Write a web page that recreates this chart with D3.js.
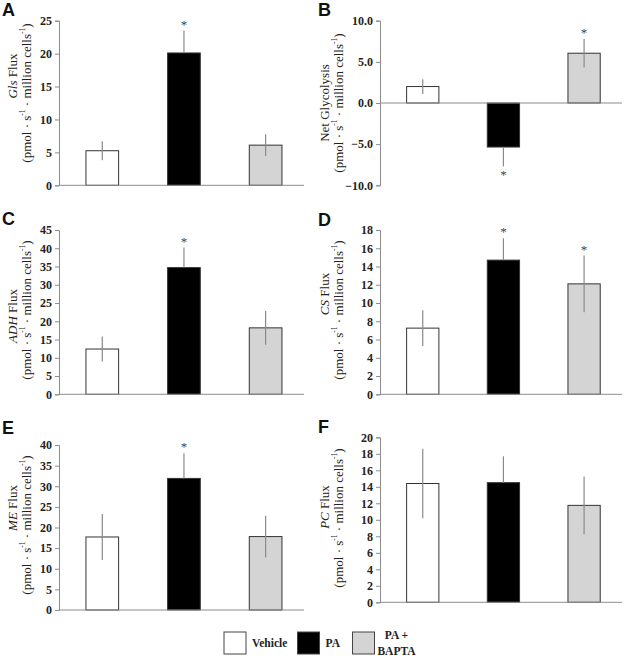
<!DOCTYPE html>
<html><head><meta charset="utf-8">
<script src="https://cdn.jsdelivr.net/npm/d3@7"></script>
<style>body{margin:0;background:#fff}svg{display:block}</style>
</head><body><svg id="c" width="624" height="656"></svg>
<script>
// ---- data ----
const groups = ["Vehicle", "PA", "PA + BAPTA"];
const glsFlux = [5.25, 20.1, 6.1];
const glsErr = [1.45, 3.4, 1.65];
const glsSig = [false, true, false];
const netGly = [2.0, -5.35, 6.05];
const netGlyErr = [0.9, 2.35, 1.75];
const netGlySig = [false, true, true];
const adhFlux = [12.4, 34.7, 18.2];
const adhErr = [3.4, 5.5, 4.6];
const adhSig = [false, true, false];
const csFlux = [7.25, 14.7, 12.1];
const csErr = [1.95, 2.4, 3.1];
const csSig = [false, true, true];
const meFlux = [17.7, 31.9, 17.8];
const meErr = [5.6, 6.1, 5.05];
const meSig = [false, true, false];
const pcFlux = [14.4, 14.5, 11.75];
const pcErr = [4.2, 3.2, 3.5];
const pcSig = [false, false, false];
const ticksA = [0, 5, 10, 15, 20, 25];
const ticksB = [-10, -5, 0, 5, 10];
const ticksC = [0, 5, 10, 15, 20, 25, 30, 35, 40, 45];
const ticksD = [0, 2, 4, 6, 8, 10, 12, 14, 16, 18];
const ticksE = [0, 5, 10, 15, 20, 25, 30, 35, 40];
const ticksF = [0, 2, 4, 6, 8, 10, 12, 14, 16, 18, 20];
const legendLabels = [["Vehicle"], ["PA"], ["PA +", "BAPTA"]];

// ---- layout / style ----
const fills = ["#ffffff", "#000000", "#d4d4d4"];
const axisColor = "#8c8c8c";
const errColor = "#8a8a8a";
const serif = "'Liberation Serif','Times New Roman',serif";
const sans = "'Liberation Sans',Arial,sans-serif";

const panels = [
  {letter:"A", lx:2, ly:16, left:59, right:304, top:20.7, bottom:185.3, dom:[0,25], ticks:ticksA, fmt:d3.format("d"), vals:glsFlux, errs:glsErr, sig:glsSig, ital:"Gls", rest:" Flux", px:0, c1:76, c2:93},
  {letter:"B", lx:318, ly:16, left:380, right:622, top:20.7, bottom:185.3, dom:[-10,10], ticks:ticksB, fmt:d3.format(".1f"), vals:netGly, errs:netGlyErr, sig:netGlySig, ital:"", rest:"Net Glycolysis", px:312, c1:103, c2:103},
  {letter:"C", lx:2, ly:225, left:59, right:304, top:230, bottom:394.3, dom:[0,45], ticks:ticksC, fmt:d3.format("d"), vals:adhFlux, errs:adhErr, sig:adhSig, ital:"ADH", rest:" Flux", px:0, c1:316, c2:310},
  {letter:"D", lx:318, ly:226, left:380, right:622, top:230, bottom:394.3, dom:[0,18], ticks:ticksD, fmt:d3.format("d"), vals:csFlux, errs:csErr, sig:csSig, ital:"CS", rest:" Flux", px:312, c1:294, c2:310},
  {letter:"E", lx:2, ly:434, left:59, right:304, top:445, bottom:610, dom:[0,40], ticks:ticksE, fmt:d3.format("d"), vals:meFlux, errs:meErr, sig:meSig, ital:"ME", rest:" Flux", px:0, c1:508, c2:525},
  {letter:"F", lx:318, ly:433, left:380, right:622, top:437.3, bottom:602.3, dom:[0,20], ticks:ticksF, fmt:d3.format("d"), vals:pcFlux, errs:pcErr, sig:pcSig, ital:"PC", rest:" Flux", px:312, c1:507, c2:518}
];

const svg = d3.select("#c");

panels.forEach(p => {
  const g = svg.append("g");
  const x = d3.scaleBand().domain(groups).range([p.left, p.right]).paddingInner(0.6).paddingOuter(0.3).align(0.55);
  const y = d3.scaleLinear().domain(p.dom).range([p.bottom, p.top]);

  g.append("text").attr("x", p.lx).attr("y", p.ly).attr("font-family", sans).attr("font-weight", "bold")
    .attr("font-size", 18).attr("fill", "#111").text(p.letter);

  const ya = g.append("g").attr("transform", `translate(${p.left},0)`)
    .call(d3.axisLeft(y).tickValues(p.ticks).tickFormat(p.fmt).tickSize(4).tickPadding(3));
  ya.select(".domain").attr("stroke", axisColor);
  ya.selectAll(".tick line").attr("stroke", axisColor);
  ya.selectAll(".tick text").attr("font-family", serif).attr("font-weight", "bold").attr("font-size", 12).attr("fill", "#222");

  g.selectAll("rect.bar").data(groups).join("rect")
    .attr("x", d => x(d)).attr("width", x.bandwidth())
    .attr("y", (d, i) => y(Math.max(0, p.vals[i])))
    .attr("height", (d, i) => Math.abs(y(p.vals[i]) - y(0)))
    .attr("fill", (d, i) => fills[i]).attr("stroke", "#333").attr("stroke-width", 1);

  g.append("line").attr("x1", p.left).attr("x2", p.right).attr("y1", y(0)).attr("y2", y(0))
    .attr("stroke", axisColor).attr("stroke-width", 1);

  groups.forEach((gname, i) => {
    const v = p.vals[i], e = p.errs[i];
    const cx = x(gname) + x.bandwidth() / 2;
    const dark = fills[i] === "#000000";
    const out = v >= 0 ? v + e : v - e;
    const inn = dark ? v : (v >= 0 ? v - e : v + e);
    g.append("line").attr("x1", cx).attr("x2", cx).attr("y1", y(inn)).attr("y2", y(out))
      .attr("stroke", errColor).attr("stroke-width", 1.2);
    if (p.sig[i]) {
      const ty = v >= 0 ? y(out) - 2 : y(out) + 13;
      g.append("text").attr("x", cx).attr("y", ty).attr("text-anchor", "middle")
        .attr("font-family", serif).attr("font-size", 13).attr("fill", "#444").text("*");
    }
  });

  const t1 = g.append("text").attr("transform", `translate(${p.px + 12},${p.c1}) rotate(-90)`)
    .attr("text-anchor", "middle").attr("dominant-baseline", "central")
    .attr("font-family", serif).attr("font-size", 13).attr("fill", "#222");
  if (p.ital) t1.append("tspan").attr("font-style", "italic").text(p.ital);
  t1.append("tspan").text(p.rest);
  const t2 = g.append("text").attr("transform", `translate(${p.px + 26},${p.c2}) rotate(-90)`)
    .attr("text-anchor", "middle").attr("dominant-baseline", "central")
    .attr("font-family", serif).attr("font-size", 13).attr("fill", "#222");
  t2.append("tspan").text("(pmol · s");
  t2.append("tspan").attr("font-size", 7.5).attr("dy", -4).text("-1");
  t2.append("tspan").attr("dy", 4).text(" · million cells");
  t2.append("tspan").attr("font-size", 7.5).attr("dy", -4).text("-1");
  t2.append("tspan").attr("dy", 4).text(")");
});

const lg = svg.append("g");
const legX = [224, 297.5, 352.5];
legendLabels.forEach((lab, i) => {
  lg.append("rect").attr("x", legX[i]).attr("y", 632).attr("width", 22).attr("height", 22)
    .attr("fill", fills[i]).attr("stroke", "#444").attr("stroke-width", 1);
  if (lab.length === 1) {
    lg.append("text").attr("x", legX[i] + 28).attr("y", 647).attr("font-family", serif)
      .attr("font-weight", "bold").attr("font-size", 11.5).attr("fill", "#222").text(lab[0]);
  } else {
    lab.forEach((s, j) => {
      lg.append("text").attr("x", legX[i] + 44).attr("y", 639 + j * 15.5).attr("text-anchor", "middle")
        .attr("font-family", serif).attr("font-weight", "bold").attr("font-size", 11.5).attr("fill", "#222").text(s);
    });
  }
});
</script></body></html>
